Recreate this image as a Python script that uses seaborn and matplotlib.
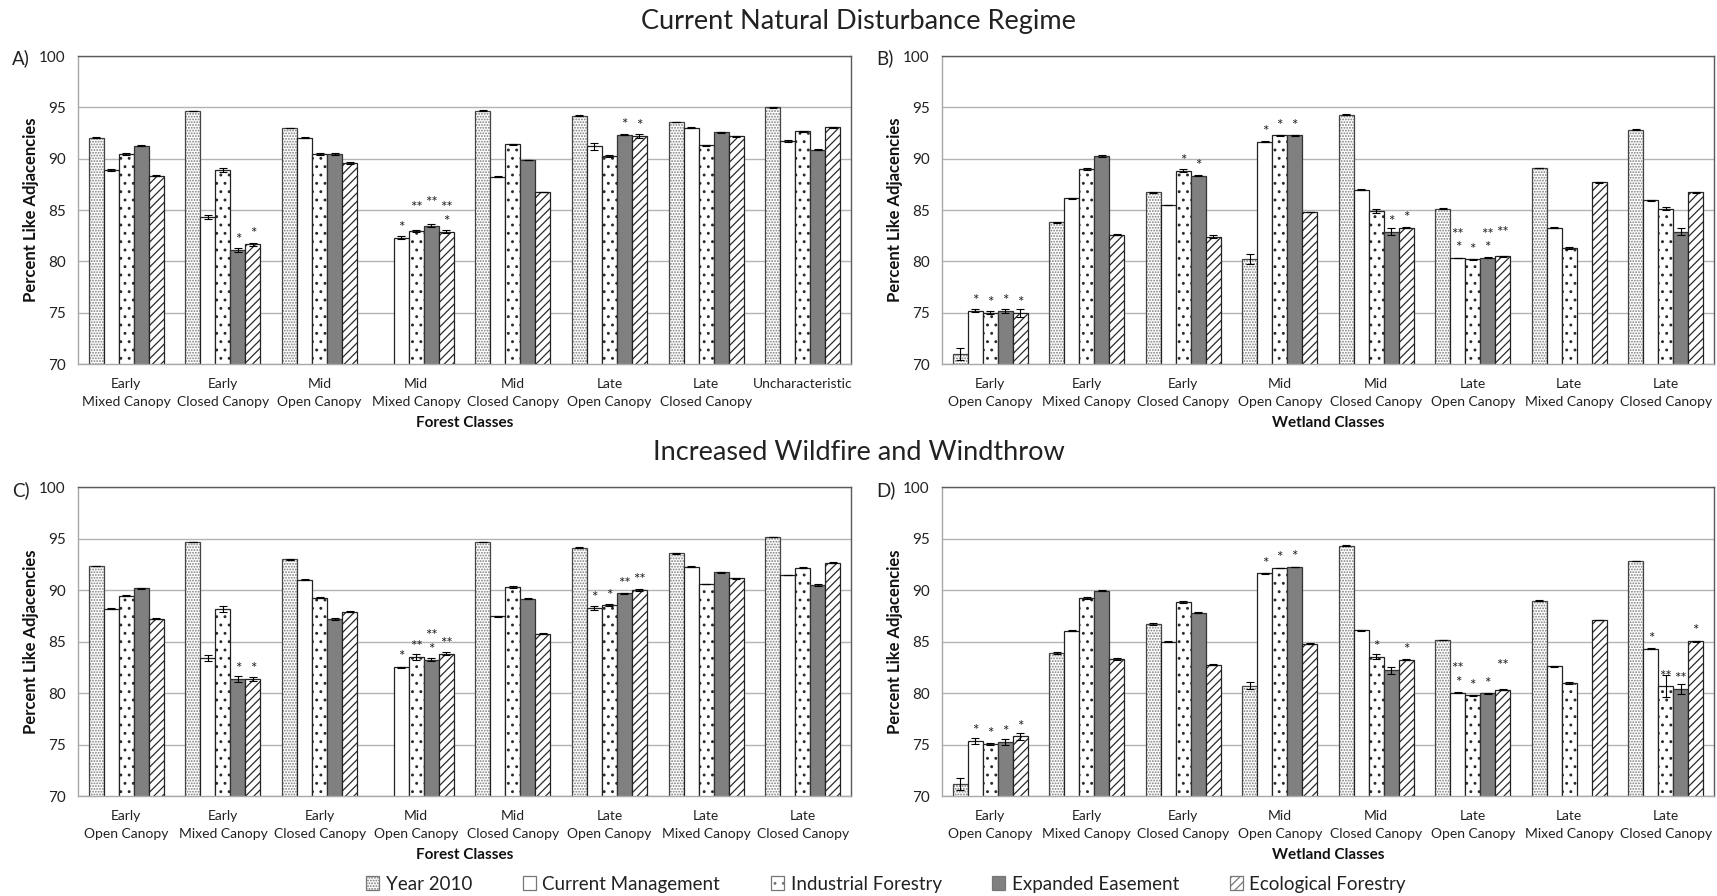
import numpy as np
import pandas as pd
import matplotlib
matplotlib.use("Agg")
import matplotlib.pyplot as plt
import matplotlib.patches as mpatches
from matplotlib.colors import to_rgba
from matplotlib.ticker import FixedLocator
import seaborn as sns

sns.set_theme(style="white")
plt.rcParams["font.family"] = ["Lato", "DejaVu Sans"]
plt.rcParams["hatch.linewidth"] = 0.9

nan = np.nan

scenarios = ["Year 2010", "Current Management", "Industrial Forestry",
             "Expanded Easement", "Ecological Forestry"]

forest_classes_now = ["Early\nMixed Canopy", "Early\nClosed Canopy", "Mid\nOpen Canopy",
                      "Mid\nMixed Canopy", "Mid\nClosed Canopy", "Late\nOpen Canopy",
                      "Late\nClosed Canopy", "Uncharacteristic"]
forest_classes_fire = ["Early\nOpen Canopy", "Early\nMixed Canopy", "Early\nClosed Canopy",
                       "Mid\nOpen Canopy", "Mid\nClosed Canopy", "Late\nOpen Canopy",
                       "Late\nMixed Canopy", "Late\nClosed Canopy"]
wetland_classes = ["Early\nOpen Canopy", "Early\nMixed Canopy", "Early\nClosed Canopy",
                   "Mid\nOpen Canopy", "Mid\nClosed Canopy", "Late\nOpen Canopy",
                   "Late\nMixed Canopy", "Late\nClosed Canopy"]

# A) forest, current natural disturbance regime
a_values = {
    "Year 2010":           [92.06, 94.65, 93.00, nan,   94.68, 94.16, 93.58, 95.00],
    "Current Management":  [88.90, 84.35, 92.06, 82.29, 88.26, 91.19, 93.03, 91.71],
    "Industrial Forestry": [90.48, 88.90, 90.45, 82.97, 91.39, 90.23, 91.29, 92.68],
    "Expanded Easement":   [91.26, 81.10, 90.42, 83.45, 89.87, 92.35, 92.55, 90.87],
    "Ecological Forestry": [88.35, 81.68, 89.58, 82.90, 86.77, 92.20, 92.16, 93.06],
}
a_errors = {
    "Year 2010":           [0.03, 0.03, 0.03, nan,  0.03, 0.05, 0.03, 0.03],
    "Current Management":  [0.10, 0.20, 0.03, 0.15, 0.05, 0.30, 0.03, 0.08],
    "Industrial Forestry": [0.08, 0.20, 0.10, 0.10, 0.05, 0.08, 0.04, 0.05],
    "Expanded Easement":   [0.05, 0.20, 0.10, 0.15, 0.04, 0.06, 0.03, 0.06],
    "Ecological Forestry": [0.08, 0.15, 0.10, 0.15, 0.03, 0.20, 0.04, 0.06],
}
a_marks = {
    "Current Management":  ["", "", "", "*", "", "", "", ""],
    "Industrial Forestry": ["", "", "", "**\n", "", "", "", ""],
    "Expanded Easement":   ["", "*", "", "**\n", "", "*", "", ""],
    "Ecological Forestry": ["", "*", "", "**\n*", "", "*", "", ""],
}

# B) wetland, current natural disturbance regime
b_values = {
    "Year 2010":           [71.00, 83.80, 86.74, 80.26, 94.29, 85.13, 89.10, 92.84],
    "Current Management":  [75.20, 86.13, 85.50, 91.65, 86.97, 80.32, 83.26, 85.94],
    "Industrial Forestry": [75.00, 88.97, 88.84, 92.26, 84.87, 80.19, 81.32, 85.13],
    "Expanded Easement":   [75.15, 90.26, 88.32, 92.26, 82.87, 80.35, nan,   82.90],
    "Ecological Forestry": [74.95, 82.60, 82.40, 84.80, 83.29, 80.48, 87.70, 86.71],
}
b_errors = {
    "Year 2010":           [0.60, 0.05, 0.06, 0.50, 0.03, 0.03, 0.03, 0.03],
    "Current Management":  [0.15, 0.03, 0.03, 0.03, 0.04, 0.04, 0.05, 0.04],
    "Industrial Forestry": [0.12, 0.08, 0.15, 0.03, 0.20, 0.04, 0.10, 0.15],
    "Expanded Easement":   [0.20, 0.05, 0.05, 0.03, 0.35, 0.05, nan,  0.35],
    "Ecological Forestry": [0.40, 0.03, 0.15, 0.04, 0.05, 0.06, 0.03, 0.04],
}
b_marks = {
    "Current Management":  ["*", "", "", "*", "", "**\n*", "", ""],
    "Industrial Forestry": ["*", "", "*", "*", "", "*", "", ""],
    "Expanded Easement":   ["*", "", "*", "*", "*", "**\n*", "", ""],
    "Ecological Forestry": ["*", "", "", "", "*", "**\n", "", ""],
}

# C) forest, increased wildfire and windthrow
c_values = {
    "Year 2010":           [92.34, 94.67, 92.99, nan,   94.67, 94.12, 93.57, 95.16],
    "Current Management":  [88.18, 83.38, 91.00, 82.50, 87.47, 88.28, 92.27, 91.46],
    "Industrial Forestry": [89.42, 88.12, 89.25, 83.47, 90.32, 88.50, 90.58, 92.14],
    "Expanded Easement":   [90.19, 81.36, 87.18, 83.25, 89.16, 89.68, 91.72, 90.49],
    "Ecological Forestry": [87.21, 81.36, 87.89, 83.80, 85.75, 90.03, 91.14, 92.66],
}
c_errors = {
    "Year 2010":           [0.03, 0.03, 0.03, nan,  0.03, 0.03, 0.03, 0.03],
    "Current Management":  [0.06, 0.30, 0.04, 0.05, 0.05, 0.20, 0.03, 0.04],
    "Industrial Forestry": [0.05, 0.30, 0.06, 0.30, 0.08, 0.10, 0.03, 0.05],
    "Expanded Easement":   [0.05, 0.25, 0.06, 0.15, 0.04, 0.06, 0.03, 0.06],
    "Ecological Forestry": [0.06, 0.15, 0.05, 0.15, 0.03, 0.08, 0.03, 0.06],
}
c_marks = {
    "Current Management":  ["", "", "", "*", "", "*", "", ""],
    "Industrial Forestry": ["", "", "", "**", "", "*", "", ""],
    "Expanded Easement":   ["", "*", "", "**\n*", "", "**", "", ""],
    "Ecological Forestry": ["", "*", "", "**", "", "**", "", ""],
}

# D) wetland, increased wildfire and windthrow
d_values = {
    "Year 2010":           [71.17, 83.86, 86.72, 80.71, 94.30, 85.16, 88.96, 92.82],
    "Current Management":  [75.32, 86.04, 85.00, 91.62, 86.07, 80.03, 82.60, 84.29],
    "Industrial Forestry": [75.06, 89.22, 88.80, 92.14, 83.54, 79.77, 80.97, 80.65],
    "Expanded Easement":   [75.23, 89.94, 87.79, 92.24, 82.20, 79.97, nan,   80.39],
    "Ecological Forestry": [75.78, 83.31, 82.73, 84.80, 83.25, 80.32, 87.08, 85.03],
}
d_errors = {
    "Year 2010":           [0.60, 0.10, 0.10, 0.35, 0.03, 0.03, 0.03, 0.03],
    "Current Management":  [0.30, 0.03, 0.03, 0.04, 0.04, 0.05, 0.04, 0.06],
    "Industrial Forestry": [0.10, 0.06, 0.10, 0.03, 0.25, 0.05, 0.06, 1.05],
    "Expanded Easement":   [0.30, 0.03, 0.05, 0.03, 0.35, 0.05, nan,  0.50],
    "Ecological Forestry": [0.30, 0.08, 0.04, 0.04, 0.06, 0.06, 0.03, 0.04],
}
d_marks = {
    "Current Management":  ["*", "", "", "*", "", "**\n*", "", "*"],
    "Industrial Forestry": ["*", "", "", "*", "*", "*", "", "**"],
    "Expanded Easement":   ["*", "", "", "*", "", "*", "", "**"],
    "Ecological Forestry": ["*", "", "", "", "*", "**\n", "", "*"],
}

# fill / hatch style of each scenario
styles = {
    "Year 2010":           dict(face="white", hatch="......", hatch_color="#7c7c7c", edge="#444444"),
    "Current Management":  dict(face="white", hatch="", hatch_color="#222222", edge="#222222"),
    "Industrial Forestry": dict(face="white", hatch="..", hatch_color="#2a2a2a", edge="#222222"),
    "Expanded Easement":   dict(face="#808080", hatch="", hatch_color="#222222", edge="#333333"),
    "Ecological Forestry": dict(face="white", hatch="////", hatch_color="#2a2a2a", edge="#222222"),
}


def style_patch(p, s):
    st = styles[s]
    p.set_facecolor(st["face"])
    p.set_edgecolor(st["edge"])
    p.set_linewidth(0.9)
    if st["hatch"]:
        p.set_hatch(st["hatch"])
        if hasattr(p, "set_hatchcolor"):
            p.set_hatchcolor(st["hatch_color"])
        else:
            p._hatch_color = to_rgba(st["hatch_color"])


def draw_panel(ax, classes, values, errors, marks, xlabel):
    rows = []
    for s in scenarios:
        for i, c in enumerate(classes):
            rows.append(dict(cls=c, scenario=s, value=values[s][i], err=errors[s][i],
                             mark=marks.get(s, [""] * len(classes))[i], idx=i))
    df = pd.DataFrame(rows)
    sns.barplot(data=df, x="cls", y="value", hue="scenario", order=classes,
                hue_order=scenarios, errorbar=None, width=0.775, gap=0,
                dodge=True, saturation=1, legend=False, ax=ax)
    for s, cont in zip(scenarios, ax.containers):
        sub = df[df.scenario == s].dropna(subset=["value"]).sort_values("idx")
        for bar, (_, r) in zip(cont, sub.iterrows()):
            style_patch(bar, s)
            xc = bar.get_x() + bar.get_width() / 2
            ax.errorbar(xc, r.value, yerr=r.err, fmt="none", ecolor="black",
                        elinewidth=0.8, capsize=2.6, capthick=0.8, zorder=4)
            if r.mark:
                ax.annotate(r.mark, xy=(xc, r.value), xytext=(0, 2.0),
                            textcoords="offset points", ha="center", va="bottom",
                            fontsize=11, linespacing=0.95, color="#222222")

    ax.set_ylim(70, 100)
    ax.set_xlim(-0.5, len(classes) - 0.5)
    ax.set_yticks(np.arange(70, 101, 5))
    ax.yaxis.grid(True, color="#b4b4b4", linewidth=1.0)
    ax.set_axisbelow(True)
    ax.xaxis.set_minor_locator(FixedLocator(np.arange(0.5, len(classes) - 0.5, 1)))
    ax.tick_params(axis="x", which="major", length=0, pad=10, labelsize=10, colors="#222222")
    ax.tick_params(axis="x", which="minor", length=7, direction="inout", color="#9a9a9a",
                   width=1.0)
    ax.tick_params(axis="y", length=0, pad=9, labelsize=11, colors="#222222")
    for lab in ax.get_xticklabels():
        lab.set_linespacing(1.6)
    ax.set_xlabel(xlabel, fontsize=11, fontweight="bold", labelpad=6, color="#111111")
    ax.set_ylabel("Percent Like Adjacencies", fontsize=12, fontweight="bold",
                  labelpad=0, color="#111111")
    ax.spines["left"].set_color("#a8a8a8")
    ax.spines["bottom"].set_color("#a8a8a8")
    ax.spines["top"].set_color("#5a5a5a")
    ax.spines["right"].set_color("#5a5a5a")
    for sp in ax.spines.values():
        sp.set_linewidth(1.0)


W, H = 1717, 896
fig = plt.figure(figsize=(W / 100, H / 100), dpi=100)


def box(x0, y0, x1, y1):
    return [x0 / W, 1 - y1 / H, (x1 - x0) / W, (y1 - y0) / H]


ax_a = fig.add_axes(box(78, 56, 851, 364))
ax_b = fig.add_axes(box(942, 56, 1714, 364))
ax_c = fig.add_axes(box(78, 487, 851, 796))
ax_d = fig.add_axes(box(942, 487, 1714, 796))

draw_panel(ax_a, forest_classes_now, a_values, a_errors, a_marks, "Forest Classes")
draw_panel(ax_b, wetland_classes, b_values, b_errors, b_marks, "Wetland Classes")
draw_panel(ax_c, forest_classes_fire, c_values, c_errors, c_marks, "Forest Classes")
draw_panel(ax_d, wetland_classes, d_values, d_errors, d_marks, "Wetland Classes")

fig.text(0.5, 1 - 21 / H, "Current Natural Disturbance Regime", ha="center", va="center",
         fontsize=19.5, color="#222222")
fig.text(0.5, 1 - 453 / H, "Increased Wildfire and Windthrow", ha="center", va="center",
         fontsize=19.5, color="#222222")
for letter, x, y in [("A)", 12, 58), ("B)", 876, 58), ("C)", 12, 490), ("D)", 876, 490)]:
    fig.text(x / W, 1 - y / H, letter, ha="left", va="center", fontsize=13.5, color="#222222")

handles = []
for s in scenarios:
    p = mpatches.Patch(label=s)
    style_patch(p, s)
    p.set_edgecolor("#777777")
    handles.append(p)
fig.legend(handles=handles, loc="center", bbox_to_anchor=(0.516, 12 / H), ncol=5,
           frameon=False, fontsize=13.5, handlelength=0.7, handleheight=0.7,
           handletextpad=0.35, columnspacing=2.7, labelcolor="#222222")

fig.savefig("out.png", dpi=100, facecolor="white")
